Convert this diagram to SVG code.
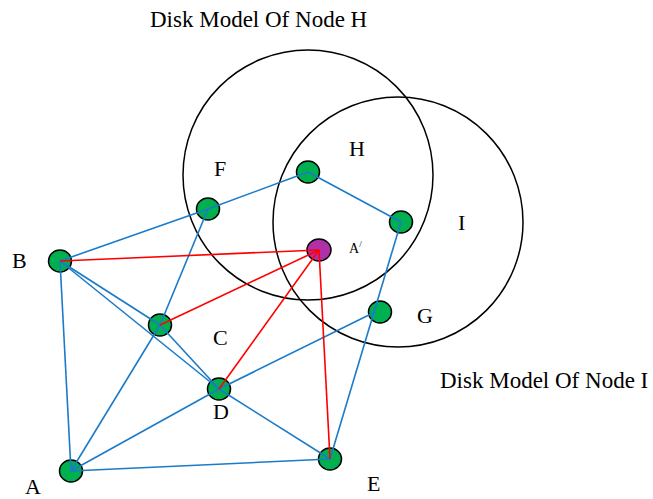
<svg xmlns="http://www.w3.org/2000/svg" width="653" height="499" viewBox="0 0 653 499">
<style>
.t{font-family:"Liberation Serif","Times New Roman",serif;font-size:22px;fill:#000}
.title{font-size:23px}
.disk{fill:none;stroke:#000;stroke-width:1.5}
.n{fill:#00B050;stroke:#000;stroke-width:1.5}
.p{fill:#B030A8;stroke:#000;stroke-width:1.5}
.b{stroke:#1B7BC8;stroke-width:1.6;fill:none}
.r{stroke:#FF0000;stroke-width:1.6;fill:none}
</style>
<rect width="653" height="499" fill="#fff"/>
<g id="disks">
<circle class="disk" cx="308" cy="175" r="125"/>
<circle class="disk" cx="398" cy="222" r="125"/>
</g>
<text class="t title" x="150" y="27">Disk Model Of Node H</text>
<text class="t title" x="440" y="388">Disk Model Of Node I</text>
<g id="node-B"><ellipse class="n" cx="60" cy="261" rx="11.5" ry="11"/><text class="t" x="12" y="268">B</text></g>
<g id="node-F"><ellipse class="n" cx="208" cy="209" rx="11.5" ry="11"/><text class="t" x="214" y="176">F</text></g>
<g id="node-H"><ellipse class="n" cx="308" cy="172" rx="11.5" ry="11"/><text class="t" x="349" y="156">H</text></g>
<g id="node-I"><ellipse class="n" cx="401" cy="222" rx="11.5" ry="11"/><text class="t" x="458" y="230">I</text></g>
<g id="node-A-prime"><ellipse class="p" cx="319" cy="250" rx="12" ry="11"/><text class="t" x="349" y="253" style="font-size:14px">A<tspan dy="-6" style="font-size:9px">/</tspan></text></g>
<g id="node-G"><ellipse class="n" cx="380" cy="312" rx="11.5" ry="11"/><text class="t" x="417" y="323">G</text></g>
<g id="node-C"><ellipse class="n" cx="160" cy="325" rx="11.5" ry="11"/><text class="t" x="213" y="345">C</text></g>
<g id="node-D"><ellipse class="n" cx="219" cy="389" rx="11.5" ry="11"/><text class="t" x="213" y="419">D</text></g>
<g id="node-A"><ellipse class="n" cx="71" cy="471" rx="11.5" ry="11"/><text class="t" x="25" y="494">A</text></g>
<g id="node-E"><ellipse class="n" cx="330" cy="459" rx="11.5" ry="11"/><text class="t" x="367" y="491">E</text></g>
<g id="connectors">
<line class="b" x1="60" y1="261" x2="208" y2="209"/>
<line class="b" x1="208" y1="209" x2="308" y2="172"/>
<line class="b" x1="308" y1="172" x2="401" y2="222"/>
<line class="b" x1="401" y1="222" x2="330" y2="459"/>
<line class="b" x1="60" y1="261" x2="160" y2="325"/>
<line class="b" x1="60" y1="261" x2="219" y2="389"/>
<line class="b" x1="60" y1="261" x2="71" y2="471"/>
<line class="b" x1="208" y1="209" x2="160" y2="325"/>
<line class="b" x1="160" y1="325" x2="71" y2="471"/>
<line class="b" x1="160" y1="325" x2="219" y2="389"/>
<line class="b" x1="219" y1="389" x2="330" y2="459"/>
<line class="b" x1="71" y1="471" x2="219" y2="389"/>
<line class="b" x1="219" y1="389" x2="375" y2="312"/>
<line class="b" x1="71" y1="471" x2="330" y2="459"/>
<line class="r" x1="60" y1="261" x2="319" y2="250"/>
<line class="r" x1="160" y1="325" x2="319" y2="250"/>
<line class="r" x1="219" y1="389" x2="319" y2="250"/>
<line class="r" x1="330" y1="459" x2="319" y2="250"/>
</g>
</svg>
